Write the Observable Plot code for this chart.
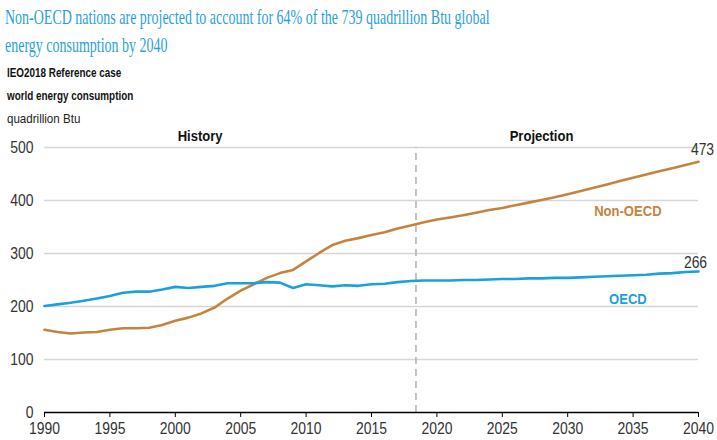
<!DOCTYPE html>
<html>
<head>
<meta charset="utf-8">
<script src="https://cdn.jsdelivr.net/npm/d3@7"></script>
<script src="https://cdn.jsdelivr.net/npm/@observablehq/plot@0.6"></script>
<style>
  body { margin: 0; background: #fff; }
  #wrap { width: 717px; height: 440px; position: relative; overflow: hidden; }
  #header { position: relative; height: 128px; }
  .ln { position: absolute; left: 0; white-space: nowrap; transform-origin: 0 50%; }
  .title { font-family: "Liberation Serif", "Times New Roman", serif; font-size: 22px; color: #2a9fd8; line-height: 28px; left: 5px; }
  .sub { font-family: "Liberation Sans", Arial, sans-serif; font-size: 13px; font-weight: bold; color: #111; line-height: 20px; left: 7px; }
  .unit { font-family: "Liberation Sans", Arial, sans-serif; font-size: 13px; color: #222; line-height: 20px; left: 7px; }
</style>
</head>
<body>
<div id="wrap">
  <div id="header">
    <div class="ln title" style="top:3px; transform: scaleX(0.636)">Non-OECD nations are projected to account for 64% of the 739 quadrillion Btu global</div>
    <div class="ln title" style="top:31px; transform: scaleX(0.636)">energy consumption by 2040</div>
    <div class="ln sub" style="top:63px; transform: scaleX(0.76)">IEO2018 Reference case</div>
    <div class="ln sub" style="top:86px; transform: scaleX(0.76)">world energy consumption</div>
    <div class="ln unit" style="top:109px; transform: scaleX(0.89)">quadrillion Btu</div>
  </div>
  <div id="chart"></div>
</div>
<script>
const years = [1990,1991,1992,1993,1994,1995,1996,1997,1998,1999,2000,2001,2002,2003,2004,2005,2006,2007,2008,2009,2010,2011,2012,2013,2014,2015,2016,2017,2018,2019,2020,2021,2022,2023,2024,2025,2026,2027,2028,2029,2030,2031,2032,2033,2034,2035,2036,2037,2038,2039,2040];
const nonOecd = [156,152,149,151,152,156,159,159,160,165,173,179,187,198,215,230,242,254,263,269,285,301,316,324,329,335,340,347,353,359,364,368,372,377,382,386,391,396,401,406,412,418,424,430,437,443,449,455,461,467,473];
const oecd = [201,204,207,211,215,220,226,228,228,232,237,235,237,239,244,244,244,246,245,235,242,240,238,240,239,242,243,246,248,249,249,249,250,250,251,252,252,253,253,254,254,255,256,257,258,259,260,262,263,265,266];
const yTicks = [0,100,200,300,400,500];
const xTicks = [1990,1995,2000,2005,2010,2015,2020,2025,2030,2035,2040];
const dividerYear = [2018.4];
const seriesNames = ["Non-OECD","OECD"];
const seriesColors = ["#c6823f","#1ba0de"];
const seriesLabelPos = [{x: 2034.6, y: 379}, {x: 2034.6, y: 214}];
const periodLabels = ["History","Projection"];
const periodLabelPos = [{x: 2001.9, y: 521}, {x: 2028.0, y: 521}];

const rows = [];
years.forEach((yr, i) => {
  rows.push({year: yr, value: nonOecd[i], series: seriesNames[0]});
  rows.push({year: yr, value: oecd[i], series: seriesNames[1]});
});
const last = years.length - 1;
const endRows = [
  {year: years[last], value: nonOecd[last], series: seriesNames[0]},
  {year: years[last], value: oecd[last], series: seriesNames[1]}
];
const seriesLabels = seriesNames.map((s, i) => ({label: s, x: seriesLabelPos[i].x, y: seriesLabelPos[i].y, series: s}));
const periods = periodLabels.map((p, i) => ({label: p, x: periodLabelPos[i].x, y: periodLabelPos[i].y}));

const FONT = '"Liberation Sans", Arial, sans-serif';

const chart = Plot.plot({
  width: 717,
  height: 312,
  marginTop: 19,
  marginBottom: 28,
  marginLeft: 44,
  marginRight: 19,
  style: {fontFamily: FONT, fontSize: "16px", color: "#333", background: "#fff"},
  x: {domain: [1990, 2040], label: null},
  y: {domain: [0, 500], label: null},
  color: {domain: seriesNames, range: seriesColors},
  marks: [
    Plot.gridY(yTicks.filter(d => d > 0), {stroke: "#d6d6d6", strokeOpacity: 1, strokeWidth: 1.6}),
    Plot.ruleX(dividerYear, {y1: 0, y2: 500, stroke: "#b0b0b0", strokeWidth: 1.5, strokeDasharray: "7,5"}),
    Plot.ruleY([0], {stroke: "#000", strokeWidth: 1.3}),
    Plot.axisX({ticks: xTicks, tickFormat: d => String(d), tickSize: 5, tickPadding: 5, fontSize: 16, fill: "#333", stroke: "#000"}),
    Plot.axisY({ticks: yTicks, tickSize: 0, tickPadding: 11, fontSize: 16, fill: "#333"}),
    Plot.line(rows, {x: "year", y: "value", z: "series", stroke: "series", strokeWidth: 2.6, curve: "linear"}),
    Plot.text(endRows.slice(0,1), {x: "year", y: "value", text: d => String(d.value), dx: 4, dy: -12, fontSize: 16, fill: "#333"}),
    Plot.text(endRows.slice(1), {x: "year", y: "value", text: d => String(d.value), dx: -3, dy: -9, fontSize: 16, fill: "#333"}),
    Plot.text(seriesLabels, {x: "x", y: "y", text: "label", fill: "series", fontSize: 15, fontWeight: "bold"}),
    Plot.text(periods, {x: "x", y: "y", text: "label", fill: "#111", fontSize: 15, fontWeight: "bold"})
  ]
});
document.getElementById("chart").appendChild(chart);

// The reference uses a narrow sans face; compress glyphs horizontally.
chart.querySelectorAll("text").forEach(t => {
  const targets = t.querySelectorAll("tspan").length ? t.querySelectorAll("tspan") : [t];
  targets.forEach(el => {
    const w = el.getComputedTextLength();
    if (w > 0) {
      el.setAttribute("textLength", (w * 0.87).toFixed(2));
      el.setAttribute("lengthAdjust", "spacingAndGlyphs");
    }
  });
});
</script>
</body>
</html>
